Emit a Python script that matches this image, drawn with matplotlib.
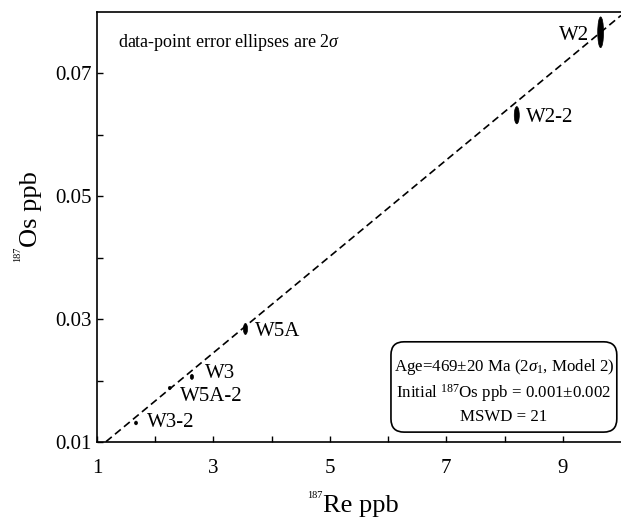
import numpy as np
import matplotlib
matplotlib.use('Agg')
import matplotlib.pyplot as plt
from matplotlib.patches import Ellipse, FancyBboxPatch

plt.rcParams['font.family'] = ['Liberation Serif', 'DejaVu Serif']
plt.rcParams['mathtext.fontset'] = 'custom'
plt.rcParams['mathtext.rm'] = 'Liberation Serif'
plt.rcParams['mathtext.it'] = 'Liberation Serif:italic'

# sample data (Re, Os in ppb) with 2-sigma half widths
samples = ['W2', 'W2-2', 'W5A', 'W3', 'W5A-2', 'W3-2']
re = [9.65, 8.21, 3.55, 2.63, 2.25, 1.67]
os_ = [0.0767, 0.0632, 0.0284, 0.0206, 0.0188, 0.0131]
re_err = [0.05, 0.043, 0.035, 0.028, 0.025, 0.025]
os_err = [0.0025, 0.0014, 0.0009, 0.0004, 0.00025, 0.0003]

# label positions (data coords) and alignment
lab_x = [9.45, 8.37, 3.71, 2.85, 2.42, 1.86]
lab_y = [0.0762, 0.0628, 0.0280, 0.0212, 0.0174, 0.0131]
lab_ha = ['right', 'left', 'left', 'left', 'left', 'left']

age = 469  # Ma
initial = 0.001
lam = 1.666e-11

fig = plt.figure(figsize=(6.21, 5.18), dpi=100)
ax = fig.add_axes([97/621, 1 - 442/518, 524/621, 430/518])

# isochron
slope = np.exp(lam * age * 1e6) - 1
xs = np.array([1, 10])
ax.plot(xs, initial + slope * xs, 'k--', lw=1.2, dashes=(4.5, 2.5))

for x, y, ex, ey in zip(re, os_, re_err, os_err):
    ax.add_patch(Ellipse((x, y), 2 * ex, 2 * ey, fc='black', ec='black', lw=0.5))

for s, x, y, ha in zip(samples, lab_x, lab_y, lab_ha):
    ax.text(x, y, s, ha=ha, va='center', fontsize=15)

ax.set_xlim(1, 10)
ax.set_ylim(0.01, 0.08)
ax.set_xticks(np.arange(1, 10, 1))
ax.set_xticklabels(['1', '', '3', '', '5', '', '7', '', '9'])
ax.set_yticks([0.01, 0.02, 0.03, 0.04, 0.05, 0.06, 0.07])
ax.set_yticklabels(['0.01', '', '0.03', '', '0.05', '', '0.07'])
ax.tick_params(direction='in', length=4, width=1, labelsize=15)
ax.tick_params(axis='x', pad=12)
ax.tick_params(axis='y', pad=4)
ax.spines['right'].set_visible(False)
for sp in ['left', 'bottom', 'top']:
    ax.spines[sp].set_linewidth(1.2)

ax.text(0.04, 0.93, r'data-point error ellipses are 2$\sigma$', transform=ax.transAxes,
        fontsize=13, va='center', ha='left')

# results box
ax.add_patch(FancyBboxPatch((0.561, 0.023), 0.431, 0.210, transform=ax.transAxes,
                            boxstyle='round,pad=0,rounding_size=0.025', mutation_aspect=1.22,
                            fc='white', ec='black', lw=1.2, zorder=3))
box_txt = ('Age=469±20 Ma (2$\\sigma_{\\mathregular{1}}$, Model 2)\n'
           'Initial $^{187}$Os ppb = 0.001±0.002\n'
           'MSWD = 21')
ax.text(0.7765, 0.119, box_txt, transform=ax.transAxes, ha='center', va='center',
        multialignment='center', fontsize=12.2, linespacing=1.36, zorder=4)

# axis titles with small superscripts
fig.text(323/621, 1 - 512/518, 'Re ppb', ha='left', va='baseline', fontsize=19)
fig.text(323/621, 1 - 491/518, '187', ha='right', va='top', fontsize=7.5)
fig.text(37/621, 1 - 247/518, 'Os ppb', ha='left', va='baseline', fontsize=19,
         rotation=90, rotation_mode='anchor')
fig.text(13/621, 1 - 247/518, '187', ha='right', va='top', fontsize=7.5,
         rotation=90, rotation_mode='anchor')

fig.savefig('out.png', dpi=100)
